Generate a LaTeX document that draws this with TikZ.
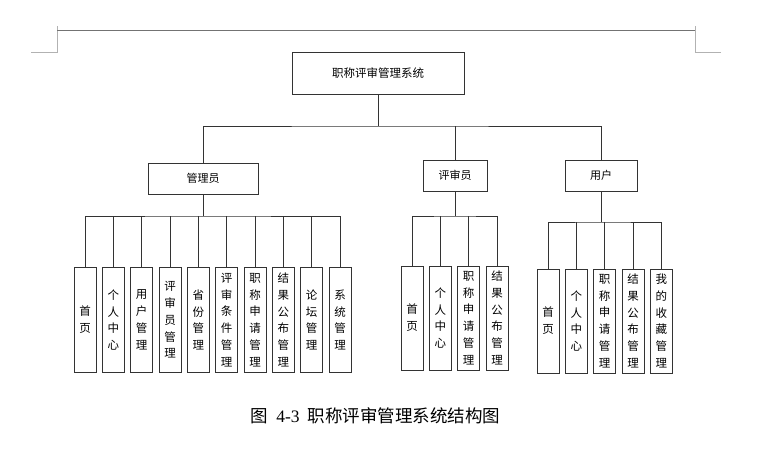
\documentclass[tikz,border=0pt]{standalone}
\usepackage{fontspec}
\setmainfont{Noto Sans CJK SC}
\newfontfamily\latinserif{Liberation Serif}
\begin{document}
\begin{tikzpicture}[x=1pt,y=-1pt,
  box/.style={draw=black!80, line width=1pt, inner sep=0pt, fill=white},
  topbox/.style={box, minimum width=172pt, minimum height=42pt, font=\fontsize{11.5}{12}\selectfont},
  midbox/.style={box, minimum height=31pt, font=\fontsize{11}{12}\selectfont},
  leaf/.style={box, minimum width=22pt, minimum height=105pt, align=center, font=\fontsize{11.5}{16.8}\selectfont},
  conn/.style={draw=black!80, line width=1pt},
  cornermark/.style={draw=black!30, line width=0.6pt}]
\useasboundingbox (0,0) rectangle (784,455);
% page corner marks
\draw[cornermark] (31,52) -- (57,52) -- (57,26);
\draw[cornermark] (721,52) -- (695,52) -- (695,26);
\draw[draw=black!55, line width=0.8pt] (57,30) -- (695,30);
% nodes
\node[topbox] (root) at (378,73) {职称评审管理系统};
\node[midbox, minimum width=110pt] (m) at (203,178.5) {管理员};
\node[midbox, minimum width=64pt] (p) at (455,175.5) {评审员};
\node[midbox, minimum width=72pt] (u) at (601,175.5) {用户};
% admin leaves
\node[leaf] (a1) at (85,320) {首\\页};
\node[leaf] (a2) at (113.3,320) {个\\人\\中\\心};
\node[leaf] (a3) at (141.7,320) {用\\户\\管\\理};
\node[leaf] (a4) at (170,320) {评\\审\\员\\管\\理};
\node[leaf] (a5) at (198.3,320) {省\\份\\管\\理};
\node[leaf] (a6) at (226.7,320) {评\\审\\条\\件\\管\\理};
\node[leaf] (a7) at (255,320) {职\\称\\申\\请\\管\\理};
\node[leaf] (a8) at (283.3,320) {结\\果\\公\\布\\管\\理};
\node[leaf] (a9) at (311.7,320) {论\\坛\\管\\理};
\node[leaf] (a10) at (340,320) {系\\统\\管\\理};
% reviewer leaves
\node[leaf, minimum height=104pt] (p1) at (412,318) {首\\页};
\node[leaf, minimum height=104pt] (p2) at (440.3,318) {个\\人\\中\\心};
\node[leaf, minimum height=104pt] (p3) at (468.7,318) {职\\称\\申\\请\\管\\理};
\node[leaf, minimum height=104pt] (p4) at (497,318) {结\\果\\公\\布\\管\\理};
% user leaves
\node[leaf, minimum height=104pt] (u1) at (548,321) {首\\页};
\node[leaf, minimum height=104pt] (u2) at (576.3,321) {个\\人\\中\\心};
\node[leaf, minimum height=104pt] (u3) at (604.7,321) {职\\称\\申\\请\\管\\理};
\node[leaf, minimum height=104pt] (u4) at (633,321) {结\\果\\公\\布\\管\\理};
\node[leaf, minimum height=104pt] (u5) at (661.3,321) {我\\的\\收\\藏\\管\\理};
% connectors
\coordinate (b0) at (378,126);
\draw[conn] (root.south) -- (b0);
\draw[conn] (m.north) |- (b0) -| (u.north);
\draw[conn] (p.north) -- (p.north |- b0);
\coordinate (bm) at (203,216);
\draw[conn] (m.south) -- (bm);
\draw[conn] (a1.north) |- (bm) -| (a10.north);
\foreach \i in {2,...,9} \draw[conn] (a\i.north) -- (a\i.north |- bm);
\coordinate (bp) at (455,216);
\draw[conn] (p.south) -- (bp);
\draw[conn] (p1.north) |- (bp) -| (p4.north);
\foreach \i in {2,3} \draw[conn] (p\i.north) -- (p\i.north |- bp);
\coordinate (bu) at (601,222);
\draw[conn] (u.south) -- (bu);
\draw[conn] (u1.north) |- (bu) -| (u5.north);
\foreach \i in {2,3,4} \draw[conn] (u\i.north) -- (u\i.north |- bu);
% caption
\node[font=\fontsize{17.5}{17.5}\selectfont, inner sep=0pt] (cap) at (375.5,416) {图\hspace{0.45em}{\latinserif 4-3}\hspace{0.45em}职称评审管理系统结构图};
\end{tikzpicture}
\end{document}
